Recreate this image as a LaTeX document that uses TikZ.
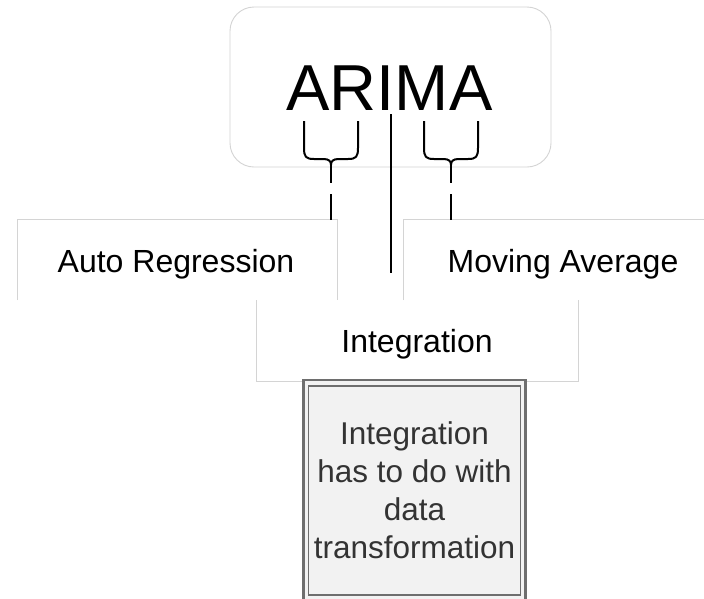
\documentclass[tikz,border=0pt]{standalone}
\usepackage{fontspec}
\setmainfont{Liberation Sans}
\definecolor{edgegray}{HTML}{D4D4D4}
\definecolor{notegray}{HTML}{6E6E6E}
\definecolor{notefill}{HTML}{F2F2F2}
\definecolor{notetext}{HTML}{333333}
\tikzset{
  boxedge/.style={draw=edgegray, line width=0.9pt},
  label box/.style={fill=white, draw=none, inner sep=0pt},
  lbl/.style={font=\fontsize{32}{38}\selectfont, inner sep=0pt, anchor=base},
  brace line/.style={line width=2pt, black},
}
\begin{document}
\begin{tikzpicture}[x=1pt, y=-1pt]
\useasboundingbox (0,0) rectangle (704,598);
\fill[white] (0,0) rectangle (704,598);
% ARIMA box
\node[draw=edgegray, line width=0.9pt, rounded corners=24pt, fill=white, minimum width=321pt, minimum height=160pt, inner sep=0pt] (arimabox) at (390.5,87) {};
\node[font=\fontsize{65}{70}\selectfont, inner sep=0pt, anchor=base] (arima) at (389.5,110) {ARIMA};
% integration box
\node[label box, minimum width=321pt, minimum height=81pt] (intbox) at (417.5,340.5) {};
\draw[boxedge] (intbox.north west) -- (intbox.south west) -- (intbox.south east) -- (intbox.north east);
% AR box
\node[label box, minimum width=319pt, minimum height=80pt] (arbox) at (177.5,260) {};
\draw[boxedge] (arbox.south west) -- (arbox.north west) -- (arbox.north east) -- (arbox.south east);
% MA box
\node[label box, minimum width=318pt, minimum height=80pt] (mabox) at (563,260) {};
\draw[boxedge] (mabox.south west) -- (mabox.north west) -- (mabox.north east);
% labels
\node[lbl] (ar) at (176,272.5) {Auto Regression};
\node[lbl] (ma) at (563,272.5) {Moving Average};
\node[lbl] (int) at (417,352.5) {Integration};
% braces
\coordinate (artip) at (331,165);
\coordinate (matip) at (451,165);
\draw[brace line, line join=round] (304,121) -- (304,148) .. controls (304,157) and (306,159) .. (314,159) -- (323,159) .. controls (329,159) and (331,161) .. (artip) .. controls (331,161) and (333,159) .. (339,159) -- (348,159) .. controls (356,159) and (358,157) .. (358,148) -- (358,121);
\draw[brace line, line join=round] (424,121) -- (424,148) .. controls (424,157) and (426,159) .. (434,159) -- (443,159) .. controls (449,159) and (451,161) .. (matip) .. controls (451,161) and (453,159) .. (459,159) -- (468,159) .. controls (476,159) and (478,157) .. (478,148) -- (478,121);
\draw[brace line, dash pattern=on 18pt off 11pt on 40pt] (artip) -- (arbox.north -| artip);
\draw[brace line, dash pattern=on 18pt off 11pt on 40pt] (matip) -- (mabox.north -| matip);
\coordinate (itop) at (391,114);
\coordinate (iend) at (391,273);
\draw[brace line] (itop) -- (iend);
% note box
\node[draw=notegray, line width=2.3pt, fill=notefill, minimum width=222pt, minimum height=222pt, inner sep=0pt] (noteouter) at (414.5,491) {};
\node[draw=notegray, line width=1.5pt, fill=notefill, minimum width=212pt, minimum height=209pt, inner sep=0pt] (noteinner) at (414.5,490.5) {};
\node[font=\fontsize{31.5}{37.7}\selectfont, text=notetext, align=center, inner sep=0pt, anchor=base] (note) at (414.5,558) {Integration\\has to do with\\data\\transformation};
\end{tikzpicture}
\end{document}
